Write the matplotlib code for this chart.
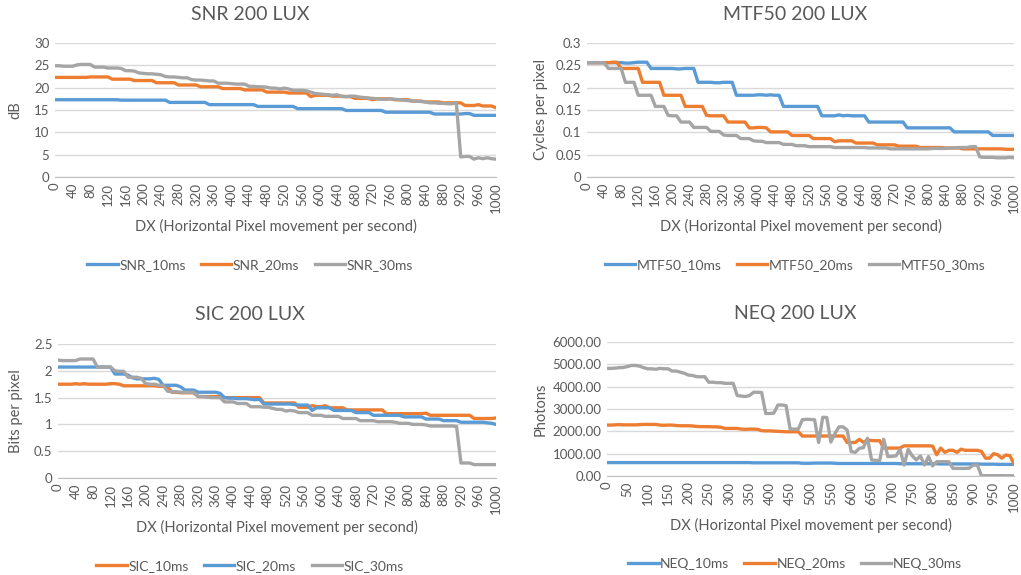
import matplotlib
matplotlib.use('Agg')
import matplotlib.pyplot as plt
from matplotlib.ticker import FuncFormatter

plt.rcParams['font.family'] = ['Lato', 'DejaVu Sans']

# category axis: DX 0..1000 step 10
dx = list(range(0, 1001, 10))

snr_10 = [17.3, 17.3, 17.3, 17.3, 17.3, 17.3, 17.3, 17.3, 17.3, 17.3,
          17.3, 17.3, 17.3, 17.3, 17.3, 17.2, 17.2, 17.2, 17.2, 17.2,
          17.2, 17.2, 17.2, 17.2, 17.2, 17.2, 16.7, 16.7, 16.7, 16.7,
          16.7, 16.7, 16.7, 16.7, 16.7, 16.2, 16.2, 16.2, 16.2, 16.2,
          16.2, 16.2, 16.2, 16.2, 16.2, 16.2, 15.8, 15.8, 15.8, 15.8,
          15.8, 15.8, 15.8, 15.8, 15.8, 15.3, 15.3, 15.3, 15.3, 15.3,
          15.3, 15.3, 15.3, 15.3, 15.3, 15.3, 14.9, 14.9, 14.9, 14.9,
          14.9, 14.9, 14.9, 14.9, 14.9, 14.5, 14.5, 14.5, 14.5, 14.5,
          14.5, 14.5, 14.5, 14.5, 14.5, 14.5, 14.1, 14.1, 14.1, 14.1,
          14.1, 14.1, 14.1, 14.2, 14.2, 13.8, 13.8, 13.8, 13.8, 13.8,
          13.8]
snr_20 = [22.3, 22.3, 22.3, 22.3, 22.3, 22.3, 22.3, 22.3, 22.4, 22.4,
          22.4, 22.4, 22.4, 21.9, 21.9, 21.9, 21.9, 21.9, 21.6, 21.6,
          21.6, 21.6, 21.6, 21.1, 21.1, 21.1, 21.1, 21.1, 20.6, 20.6,
          20.6, 20.6, 20.6, 20.2, 20.2, 20.2, 20.2, 20.2, 19.8, 19.8,
          19.8, 19.8, 19.8, 19.5, 19.5, 19.5, 19.5, 19.5, 19.0, 19.0,
          19.0, 19.0, 19.0, 18.8, 18.8, 18.8, 18.8, 18.8, 18.0, 18.3,
          18.3, 18.3, 18.3, 18.1, 18.1, 18.1, 18.0, 18.0, 17.6, 17.6,
          17.6, 17.6, 17.3, 17.5, 17.5, 17.5, 17.5, 17.3, 17.3, 17.3,
          17.3, 17.0, 17.0, 17.0, 16.8, 16.8, 16.8, 16.8, 16.6, 16.6,
          16.6, 16.6, 16.6, 16.0, 16.0, 16.0, 16.2, 15.9, 15.9, 15.9,
          15.5]
snr_30 = [24.9, 24.9, 24.8, 24.8, 24.8, 25.1, 25.2, 25.2, 25.2, 24.6,
          24.6, 24.6, 24.4, 24.4, 24.4, 24.3, 23.8, 23.8, 23.7, 23.3,
          23.2, 23.1, 23.1, 23.0, 22.9, 22.5, 22.4, 22.4, 22.3, 22.2,
          22.2, 21.8, 21.7, 21.7, 21.6, 21.5, 21.5, 21.0, 21.0, 21.0,
          20.9, 20.8, 20.8, 20.8, 20.3, 20.3, 20.2, 20.2, 20.1, 19.9,
          19.9, 19.7, 19.9, 19.7, 19.4, 19.4, 19.4, 19.3, 19.0, 18.7,
          18.6, 18.5, 18.4, 18.3, 18.4, 18.0, 18.0, 18.1, 18.1, 17.9,
          17.8, 17.7, 17.6, 17.5, 17.4, 17.4, 17.5, 17.4, 17.3, 17.2,
          17.1, 17.0, 17.0, 16.9, 16.8, 16.6, 16.6, 16.5, 16.5, 16.4,
          16.4, 16.6, 4.5, 4.6, 4.6, 4.0, 4.3, 4.1, 4.3, 4.1,
          4.0]

mtf_10 = [.256, .256, .256, .256, .256, .256, .256, .256, .256, .255,
          .255, .256, .257, .257, .257, .243, .243, .243, .243, .243,
          .243, .242, .242, .243, .243, .243, .212, .212, .212, .212,
          .211, .211, .212, .212, .212, .183, .183, .183, .183, .183,
          .184, .184, .183, .184, .183, .183, .158, .158, .158, .158,
          .158, .158, .158, .158, .158, .137, .137, .137, .137, .139,
          .137, .138, .137, .137, .137, .137, .123, .123, .123, .123,
          .123, .123, .123, .123, .123, .110, .110, .110, .110, .110,
          .110, .110, .110, .110, .110, .110, .101, .101, .101, .101,
          .101, .101, .101, .101, .101, .093, .093, .093, .093, .093,
          .093]
mtf_20 = [.256, .256, .256, .256, .256, .256, .257, .257, .243, .243,
          .243, .243, .243, .212, .212, .212, .212, .212, .183, .183,
          .183, .183, .183, .158, .158, .158, .158, .158, .138, .137,
          .137, .137, .137, .123, .123, .123, .123, .123, .110, .110,
          .111, .111, .110, .101, .101, .101, .101, .101, .093, .093,
          .093, .093, .093, .086, .086, .086, .086, .086, .079, .081,
          .081, .081, .081, .076, .076, .076, .076, .076, .072, .072,
          .072, .072, .072, .069, .069, .069, .069, .069, .066, .066,
          .066, .066, .066, .066, .065, .065, .065, .065, .063, .063,
          .063, .063, .063, .063, .063, .063, .063, .063, .062, .062,
          .062]
mtf_30 = [.256, .256, .256, .256, .256, .243, .243, .243, .243, .212,
          .212, .212, .183, .183, .183, .183, .158, .158, .158, .138,
          .137, .137, .123, .123, .123, .111, .111, .111, .111, .102,
          .102, .102, .094, .093, .093, .093, .086, .086, .086, .081,
          .080, .080, .077, .077, .077, .077, .073, .073, .073, .070,
          .070, .070, .068, .068, .068, .068, .068, .068, .066, .066,
          .066, .066, .066, .066, .066, .066, .065, .065, .065, .065,
          .065, .063, .063, .063, .063, .063, .063, .063, .063, .063,
          .063, .064, .064, .064, .064, .065, .065, .066, .066, .066,
          .068, .068, .045, .044, .044, .044, .043, .043, .043, .044,
          .043]

sic_10 = [1.75, 1.75, 1.75, 1.75, 1.76, 1.75, 1.76, 1.75, 1.75, 1.75,
          1.75, 1.75, 1.76, 1.76, 1.75, 1.72, 1.72, 1.72, 1.72, 1.72,
          1.72, 1.72, 1.72, 1.71, 1.71, 1.71, 1.60, 1.60, 1.59, 1.59,
          1.59, 1.59, 1.52, 1.52, 1.52, 1.52, 1.52, 1.52, 1.50, 1.50,
          1.50, 1.50, 1.50, 1.50, 1.50, 1.50, 1.50, 1.40, 1.40, 1.40,
          1.40, 1.40, 1.40, 1.40, 1.40, 1.32, 1.32, 1.32, 1.35, 1.33,
          1.33, 1.35, 1.31, 1.31, 1.31, 1.31, 1.27, 1.27, 1.27, 1.27,
          1.27, 1.27, 1.27, 1.27, 1.27, 1.20, 1.20, 1.20, 1.20, 1.20,
          1.20, 1.20, 1.20, 1.20, 1.21, 1.17, 1.17, 1.17, 1.17, 1.17,
          1.17, 1.17, 1.17, 1.17, 1.17, 1.11, 1.11, 1.11, 1.11, 1.11,
          1.12]
sic_20 = [2.07, 2.07, 2.07, 2.07, 2.07, 2.07, 2.07, 2.07, 2.07, 2.07,
          2.07, 2.07, 2.07, 1.94, 1.94, 1.94, 1.92, 1.87, 1.85, 1.85,
          1.85, 1.85, 1.86, 1.84, 1.73, 1.73, 1.73, 1.73, 1.70, 1.64,
          1.64, 1.64, 1.60, 1.60, 1.60, 1.60, 1.60, 1.58, 1.50, 1.49,
          1.49, 1.48, 1.48, 1.48, 1.47, 1.46, 1.47, 1.38, 1.38, 1.38,
          1.38, 1.38, 1.38, 1.38, 1.37, 1.36, 1.36, 1.36, 1.26, 1.31,
          1.31, 1.31, 1.31, 1.26, 1.26, 1.26, 1.26, 1.26, 1.22, 1.22,
          1.22, 1.22, 1.17, 1.17, 1.17, 1.17, 1.17, 1.17, 1.17, 1.14,
          1.14, 1.14, 1.14, 1.14, 1.10, 1.10, 1.10, 1.10, 1.07, 1.07,
          1.07, 1.07, 1.04, 1.04, 1.04, 1.04, 1.04, 1.04, 1.03, 1.02,
          1.00]
sic_30 = [2.20, 2.19, 2.19, 2.19, 2.19, 2.22, 2.22, 2.22, 2.22, 2.07,
          2.07, 2.07, 2.07, 2.00, 1.99, 1.99, 1.88, 1.88, 1.88, 1.86,
          1.76, 1.75, 1.75, 1.73, 1.73, 1.62, 1.61, 1.61, 1.60, 1.60,
          1.60, 1.60, 1.52, 1.52, 1.51, 1.50, 1.50, 1.50, 1.42, 1.42,
          1.42, 1.39, 1.39, 1.39, 1.33, 1.33, 1.33, 1.32, 1.32, 1.30,
          1.28, 1.28, 1.25, 1.26, 1.25, 1.22, 1.22, 1.22, 1.17, 1.17,
          1.17, 1.15, 1.15, 1.15, 1.15, 1.11, 1.11, 1.11, 1.11, 1.07,
          1.07, 1.07, 1.07, 1.05, 1.05, 1.05, 1.05, 1.04, 1.02, 1.02,
          1.02, 1.00, 1.00, 1.00, 0.99, 0.97, 0.97, 0.97, 0.97, 0.97,
          0.97, 0.96, 0.28, 0.28, 0.28, 0.25, 0.25, 0.25, 0.25, 0.25,
          0.25]

neq_10 = [600, 600, 600, 600, 600, 600, 600, 600, 600, 600,
          600, 600, 600, 600, 600, 600, 600, 600, 600, 600,
          600, 600, 600, 600, 600, 600, 600, 600, 600, 600,
          600, 600, 600, 600, 600, 600, 590, 590, 590, 590,
          590, 590, 590, 590, 590, 590, 590, 590, 570, 570,
          570, 580, 580, 580, 580, 580, 570, 560, 560, 560,
          560, 560, 560, 560, 560, 560, 560, 560, 560, 560,
          560, 560, 550, 550, 550, 550, 550, 550, 550, 550,
          550, 550, 540, 540, 540, 540, 540, 540, 540, 540,
          540, 540, 530, 530, 530, 530, 520, 520, 520, 520,
          520]
neq_20 = [2280, 2280, 2290, 2300, 2290, 2290, 2290, 2290, 2300, 2310,
          2310, 2310, 2310, 2280, 2270, 2280, 2280, 2260, 2250, 2250,
          2250, 2240, 2220, 2210, 2210, 2210, 2200, 2200, 2180, 2130,
          2130, 2130, 2130, 2100, 2090, 2100, 2100, 2090, 2030, 2020,
          2020, 2010, 2000, 1990, 1980, 1980, 1980, 1980, 1790, 1790,
          1790, 1790, 1790, 1790, 1790, 1790, 1790, 1790, 1790, 1500,
          1500, 1500, 1640, 1510, 1610, 1590, 1580, 1580, 1250, 1250,
          1250, 1250, 1250, 1350, 1350, 1350, 1350, 1350, 1350, 1350,
          1340, 950, 1250, 1060, 1150, 1150, 1060, 1200, 1150, 1150,
          1150, 1150, 1100, 800, 800, 1000, 950, 800, 940, 910,
          540]
neq_30 = [4820, 4820, 4830, 4850, 4860, 4900, 4950, 4950, 4920, 4850,
          4800, 4800, 4780, 4820, 4800, 4800, 4700, 4700, 4650, 4600,
          4520, 4500, 4450, 4440, 4450, 4200, 4200, 4180, 4180, 4150,
          4150, 4150, 3600, 3580, 3560, 3600, 3750, 3750, 3740, 2800,
          2800, 2820, 3180, 3180, 3150, 2100, 2100, 2100, 2520, 2540,
          2530, 2520, 1500, 2630, 2620, 1520, 1900, 2200, 2200, 2060,
          1090, 1060, 1240, 1270, 1690, 720, 700, 690, 1640, 870,
          880, 900, 1190, 490, 1190, 900, 720, 900, 490, 870,
          450, 640, 640, 640, 640, 340, 340, 340, 340, 350,
          490, 490, 15, 15, 15, 15, 15, 15, 12, 12,
          10]

BLUE = '#5b9bd5'
ORANGE = '#ed7d31'
GRAY = '#a5a5a5'
TXT = '#595959'

fig = plt.figure(figsize=(10.21, 5.75), dpi=100)


def panel(rect, series, title, title_xy, ylabel, ylab_x, ymax, ystep,
          fmt, xstep, leg_xy):
    ax = fig.add_axes(rect)
    for vals, col, lab in series:
        ax.plot(dx, vals, color=col, lw=2.4, label=lab, solid_joinstyle='round')
    ax.set_xlim(0, 1000)
    ax.set_ylim(0, ymax)
    nt = int(round(ymax / ystep))
    ax.set_yticks([i * ystep for i in range(nt + 1)])
    ax.yaxis.set_major_formatter(FuncFormatter(fmt))
    ax.set_xticks(list(range(0, 1001, xstep)))
    ax.set_xticklabels([str(v) for v in range(0, 1001, xstep)], rotation=90)
    ax.grid(axis='y', color='#d9d9d9', lw=1)
    ax.set_axisbelow(True)
    for s in ['top', 'right', 'left']:
        ax.spines[s].set_visible(False)
    ax.spines['bottom'].set_color('#bfbfbf')
    ax.tick_params(length=0, labelsize=9.5, labelcolor=TXT, pad=4)
    ax.set_xlabel('DX (Horizontal Pixel movement per second)', fontsize=10.5, color=TXT)
    ax.xaxis.set_label_coords(0.5, -0.37)
    ax.xaxis.label.set_va('center')
    ax.set_ylabel(ylabel, fontsize=10.5, color=TXT)
    ax.yaxis.set_label_coords(ylab_x, 0.5)
    ax.yaxis.label.set_va('center')
    fig.text(title_xy[0] / 1021, 1 - title_xy[1] / 575, title, fontsize=14,
             color=TXT, ha='center', va='center')
    ax.legend(loc='center', bbox_to_anchor=(leg_xy[0] / 1021, 1 - leg_xy[1] / 575),
              bbox_transform=fig.transFigure, ncol=3, frameon=False, fontsize=10,
              handlelength=2.2, handletextpad=0.1, columnspacing=1.1,
              labelcolor=TXT)
    return ax


def plain(v, pos):
    return ('%g' % round(v, 3))


def two_dec(v, pos):
    return '%.2f' % v


panel([55 / 1021, 1 - 177 / 575, 441 / 1021, 134 / 575],
      [(snr_10, BLUE, 'SNR_10ms'), (snr_20, ORANGE, 'SNR_20ms'),
       (snr_30, GRAY, 'SNR_30ms')],
      'SNR 200 LUX', (250, 14), 'dB', -0.09, 30, 5, plain, 40, (250, 265))

panel([587 / 1021, 1 - 177 / 575, 427 / 1021, 134 / 575],
      [(mtf_10, BLUE, 'MTF50_10ms'), (mtf_20, ORANGE, 'MTF50_20ms'),
       (mtf_30, GRAY, 'MTF50_30ms')],
      'MTF50 200 LUX', (795, 14), 'Cycles per pixel', -0.107, 0.3, 0.05,
      plain, 40, (795, 265))

panel([58 / 1021, 1 - 478 / 575, 438 / 1021, 134 / 575],
      [(sic_10, ORANGE, 'SIC_10ms'), (sic_20, BLUE, 'SIC_20ms'),
       (sic_30, GRAY, 'SIC_30ms')],
      'SIC 200 LUX', (250, 315), 'Bits per pixel', -0.096, 2.5, 0.5,
      plain, 40, (250, 566))

panel([607 / 1021, 1 - 476 / 575, 407 / 1021, 134 / 575],
      [(neq_10, BLUE, 'NEQ_10ms'), (neq_20, ORANGE, 'NEQ_20ms'),
       (neq_30, GRAY, 'NEQ_30ms')],
      'NEQ 200 LUX', (795, 313), 'Photons', -0.163, 6000, 1000,
      two_dec, 50, (795, 564))

fig.savefig('out.png', dpi=100)
